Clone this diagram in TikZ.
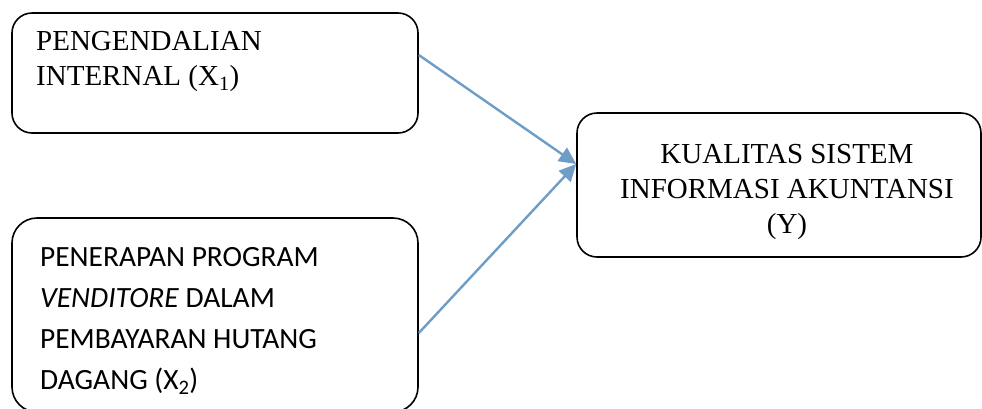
\documentclass[tikz,border=0pt]{standalone}
\usepackage{fontspec}
\setmainfont{Liberation Serif}
\newfontfamily\calibrilike{Carlito}
\usetikzlibrary{arrows.meta}
\definecolor{arrowblue}{RGB}{110,157,199}
\tikzset{
  varbox/.style={draw=black, line width=1.6pt, rounded corners=20pt, inner sep=0pt},
  serifline/.style={inner sep=0pt, font=\fontsize{29}{35}\selectfont},
  sansline/.style={inner sep=0pt, font=\calibrilike\fontsize{29.4}{41}\selectfont},
  link/.style={draw=arrowblue, line width=2.4pt, -{Triangle[length=17pt,width=16pt]}}
}
\begin{document}
\begin{tikzpicture}[x=1pt,y=-1pt]
  \useasboundingbox (0,0) rectangle (982,408);
  \clip (0,0) rectangle (982,408);

  % the three variable boxes
  \node[varbox, minimum width=406pt, minimum height=120pt] (x1) at (215,73) {};
  \node[varbox, rounded corners=25pt, minimum width=406pt, minimum height=194pt] (x2) at (215,315) {};
  \node[varbox, minimum width=404pt, minimum height=144pt] (y) at (779,185) {};

  % box labels
  \node[serifline, anchor=north west, align=left] (x1text) at (36,31.3)
    {PENGENDALIAN\\INTERNAL (X\textsubscript{1})};
  \node[sansline, anchor=north west, align=left] (x2text) at (40,247.3)
    {PENERAPAN PROGRAM\\\textit{VENDITORE} DALAM\\PEMBAYARAN HUTANG\\DAGANG (X\textsubscript{2})};
  \node[serifline, anchor=north, align=center] (ytext) at (787,144.3)
    {KUALITAS SISTEM\\INFORMASI AKUNTANSI\\(Y)};

  % influence arrows
  \draw[link] ([yshift=18pt]x1.east) -- ([yshift=21pt]y.west);
  \draw[link] ([yshift=-18pt]x2.east) -- ([yshift=21pt]y.west);
\end{tikzpicture}
\end{document}
